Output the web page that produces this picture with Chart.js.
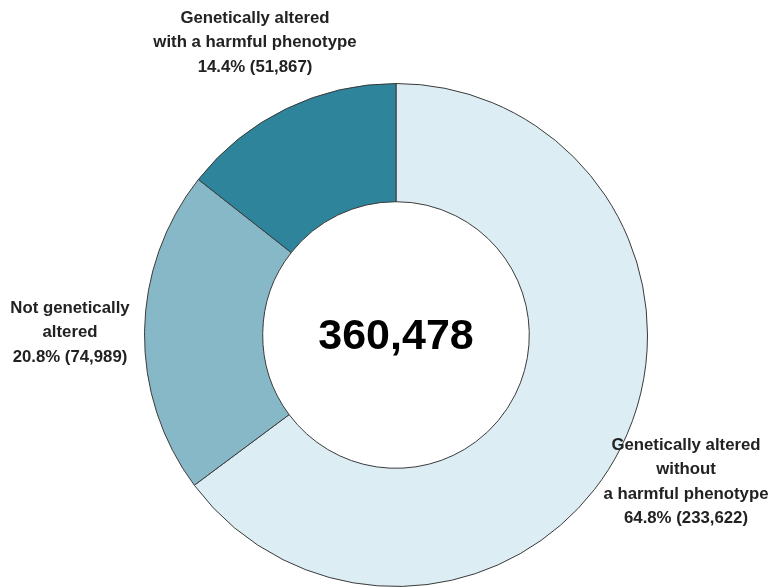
<!DOCTYPE html>
<html>
<head>
<meta charset="utf-8">
<script src="https://cdn.jsdelivr.net/npm/chart.js@4"></script>
<style>
  html, body { margin: 0; padding: 0; background: #fff; }
  #wrap { width: 772px; height: 587px; overflow: hidden; position: relative; }
  #chart { display: block; }
</style>
</head>
<body>
<div id="wrap"><canvas id="chart" width="772" height="670"></canvas></div>
<script>
// ============================================================
// Donut — genetic alteration breakdown
// ============================================================

var categories = ['Genetically altered without a harmful phenotype', 'Not genetically altered', 'Genetically altered with a harmful phenotype'];
var counts     = [233622, 74989, 51867];
var percents   = ['64.8%', '20.8%', '14.4%'];
var totalLabel = '360,478';
var labelLines = [
  ['Genetically altered', 'without', 'a harmful phenotype', '64.8% (233,622)'],
  ['Not genetically', 'altered', '20.8% (74,989)'],
  ['Genetically altered', 'with a harmful phenotype', '14.4% (51,867)']
];
var sliceColors = ['#dcedf3', '#87b8c7', '#2e849b'];

// label anchor offsets from the donut centre (x, y of first line)
var labelOffsets = [[290, 110], [-326, -27], [-141, -317]];

var labelPlugin = {
  id: 'donutLabels',
  afterDraw: function(chart) {
    var ctx = chart.ctx;
    var arc = chart.getDatasetMeta(0).data[0];
    if (!arc) return;
    var cx = arc.x, cy = arc.y;
    ctx.save();
    ctx.fillStyle = '#222';
    ctx.textAlign = 'center';
    ctx.textBaseline = 'middle';
    ctx.font = 'bold 16.8px "Liberation Sans", Arial, sans-serif';
    labelLines.forEach(function(lines, i) {
      var off = labelOffsets[i];
      lines.forEach(function(t, j) {
        ctx.fillText(t, cx + off[0], cy + off[1] + j * 24.6);
      });
    });
    ctx.fillStyle = '#000';
    ctx.font = 'bold 43px "Liberation Sans", Arial, sans-serif';
    ctx.fillText(totalLabel, cx, cy + 2);
    ctx.restore();
  }
};

new Chart(document.getElementById('chart'), {
  type: 'doughnut',
  data: {
    labels: categories,
    datasets: [{
      data: counts,
      backgroundColor: sliceColors,
      borderColor: '#3a3a3a',
      borderWidth: 1,
      borderAlign: 'center'
    }]
  },
  options: {
    responsive: false,
    animation: false,
    cutout: '53%',
    rotation: 0,
    layout: { padding: { left: 144, right: 124, top: 83, bottom: 83 } },
    plugins: {
      legend: { display: false },
      tooltip: { enabled: false }
    }
  },
  plugins: [labelPlugin]
});
</script>
</body>
</html>
